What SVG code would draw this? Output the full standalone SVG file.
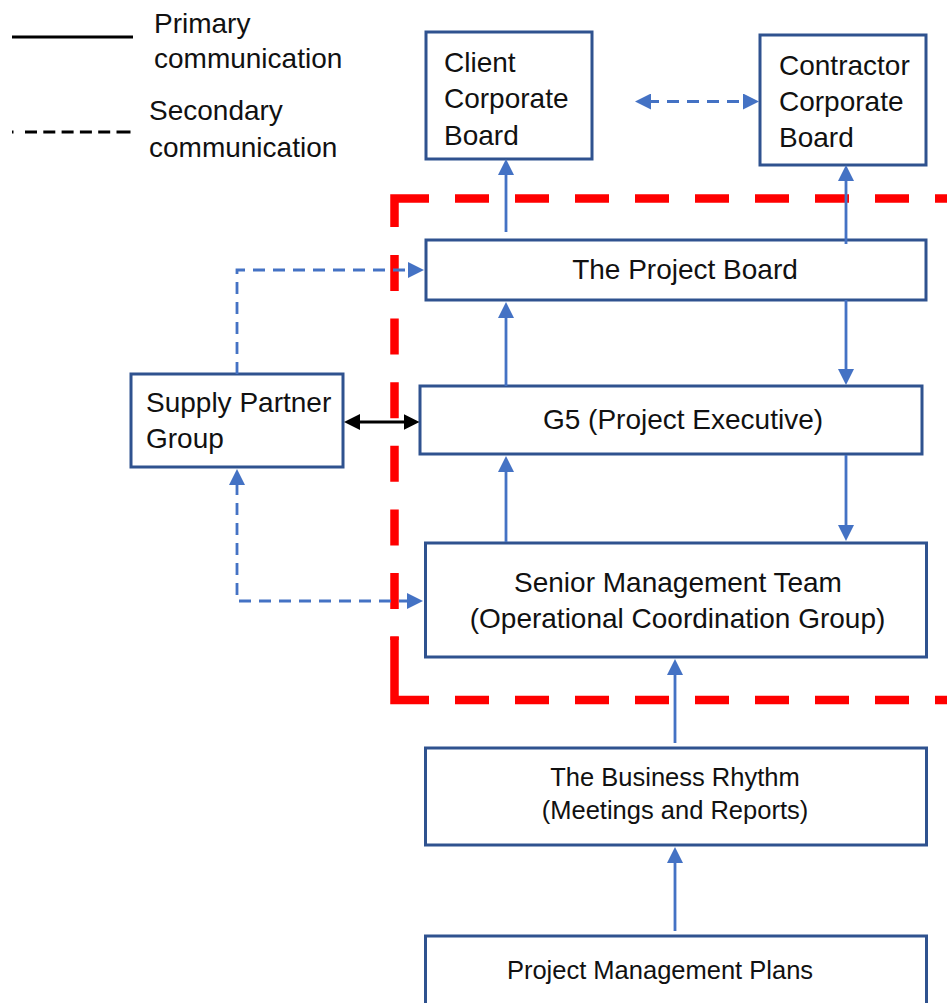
<svg xmlns="http://www.w3.org/2000/svg" width="947" height="1003" viewBox="0 0 947 1003">
  <style>
    .box { fill: #ffffff; stroke: #2f528f; stroke-width: 3; }
    .lbl { font-family: "Liberation Sans", Arial, sans-serif; font-size: 28px; fill: #111111; }
    .sm { font-size: 25.5px; }
    .mid { text-anchor: middle; }
    .arr { fill: none; stroke: #4472c4; stroke-width: 2.8; }
    .dash { stroke-dasharray: 12 8; }
    .frame { fill: none; stroke: #ff0000; stroke-width: 8.5; }
  </style>
  <defs>
    <marker id="headBlue" viewBox="0 0 16 16" markerUnits="userSpaceOnUse" markerWidth="16" markerHeight="16" refX="4" refY="8" orient="auto-start-reverse">
      <path d="M0,0 L16,8 L0,16 z" fill="#4472c4"/>
    </marker>
    <marker id="headBlack" viewBox="0 0 16 16" markerUnits="userSpaceOnUse" markerWidth="16" markerHeight="16" refX="4" refY="8" orient="auto-start-reverse">
      <path d="M0,0 L16,8 L0,16 z" fill="#000000"/>
    </marker>
  </defs>

  <rect width="947" height="1003" fill="#ffffff"/>

  <!-- legend -->
  <g id="legend">
    <line x1="12" y1="37" x2="133" y2="37" stroke="#000" stroke-width="3"/>
    <text class="lbl" x="154" y="33">Primary</text>
    <text class="lbl" x="154" y="68">communication</text>
    <line x1="12" y1="132" x2="133" y2="132" stroke="#000" stroke-width="3" stroke-dasharray="1.5 11.5 12 6.3 12 6.3 12 6.3 12 6.3 12 6.3 14 100"/>
    <text class="lbl" x="149" y="120">Secondary</text>
    <text class="lbl" x="149" y="157">communication</text>
  </g>

  <!-- project boundary (red dashed frame, open to the right) -->
  <g id="boundary">
    <path class="frame" d="M429,198.5 H394.5 V227"/>
    <line class="frame" x1="455" y1="198.5" x2="960" y2="198.5" stroke-dasharray="34 26"/>
    <line class="frame" x1="394.5" y1="255" x2="394.5" y2="640" stroke-dasharray="36 27.6"/>
    <path class="frame" d="M394.5,636.6 V700 H429"/>
    <line class="frame" x1="455" y1="700" x2="960" y2="700" stroke-dasharray="34 26"/>
  </g>

  <!-- nodes -->
  <g id="client-board">
    <rect class="box" x="426" y="32" width="166" height="127"/>
    <text class="lbl" x="444" y="72">Client</text>
    <text class="lbl" x="444" y="108">Corporate</text>
    <text class="lbl" x="444" y="145">Board</text>
  </g>
  <g id="contractor-board">
    <rect class="box" x="760" y="35" width="166" height="130"/>
    <text class="lbl" x="779" y="75">Contractor</text>
    <text class="lbl" x="779" y="111">Corporate</text>
    <text class="lbl" x="779" y="147">Board</text>
  </g>
  <g id="project-board">
    <rect class="box" x="426" y="240" width="500" height="60"/>
    <text class="lbl mid" x="685" y="279">The Project Board</text>
  </g>
  <g id="supply-partner-group">
    <rect class="box" x="131" y="374" width="212" height="93"/>
    <text class="lbl" x="146" y="412">Supply Partner</text>
    <text class="lbl" x="146" y="448">Group</text>
  </g>
  <g id="g5">
    <rect class="box" x="420" y="386" width="502" height="68"/>
    <text class="lbl mid" x="683" y="429">G5 (Project Executive)</text>
  </g>
  <g id="senior-management-team">
    <rect class="box" x="425.5" y="543" width="501" height="114"/>
    <text class="lbl mid" x="678" y="592">Senior Management Team</text>
    <text class="lbl mid" x="677.5" y="628">(Operational Coordination Group)</text>
  </g>
  <g id="business-rhythm">
    <rect class="box" x="425.5" y="748" width="501" height="97"/>
    <text class="lbl sm mid" x="675" y="786">The Business Rhythm</text>
    <text class="lbl sm mid" x="675" y="819">(Meetings and Reports)</text>
  </g>
  <g id="pm-plans">
    <rect class="box" x="425.5" y="936" width="501" height="90"/>
    <text class="lbl sm mid" x="660" y="979">Project Management Plans</text>
  </g>

  <!-- connectors -->
  <g id="connectors">
    <line class="arr" x1="506" y1="232" x2="506" y2="171" marker-end="url(#headBlue)"/>
    <line class="arr" x1="846" y1="244" x2="846" y2="177" marker-end="url(#headBlue)"/>
    <line class="arr dash" x1="647" y1="101.5" x2="747" y2="101.5" marker-start="url(#headBlue)" marker-end="url(#headBlue)"/>
    <path class="arr dash" d="M237,374 V270 H412" marker-end="url(#headBlue)"/>
    <path class="arr dash" d="M411,601 H237 V481" marker-start="url(#headBlue)" marker-end="url(#headBlue)"/>
    <line x1="356" y1="422" x2="407.5" y2="422" stroke="#000" stroke-width="2.8" marker-start="url(#headBlack)" marker-end="url(#headBlack)"/>
    <line class="arr" x1="506" y1="386" x2="506" y2="314" marker-end="url(#headBlue)"/>
    <line class="arr" x1="846" y1="300" x2="846" y2="373" marker-end="url(#headBlue)"/>
    <line class="arr" x1="506" y1="542" x2="506" y2="468" marker-end="url(#headBlue)"/>
    <line class="arr" x1="846" y1="455" x2="846" y2="529" marker-end="url(#headBlue)"/>
    <line class="arr" x1="675" y1="743" x2="675" y2="671" marker-end="url(#headBlue)"/>
    <line class="arr" x1="675" y1="931" x2="675" y2="859" marker-end="url(#headBlue)"/>
  </g>
</svg>
